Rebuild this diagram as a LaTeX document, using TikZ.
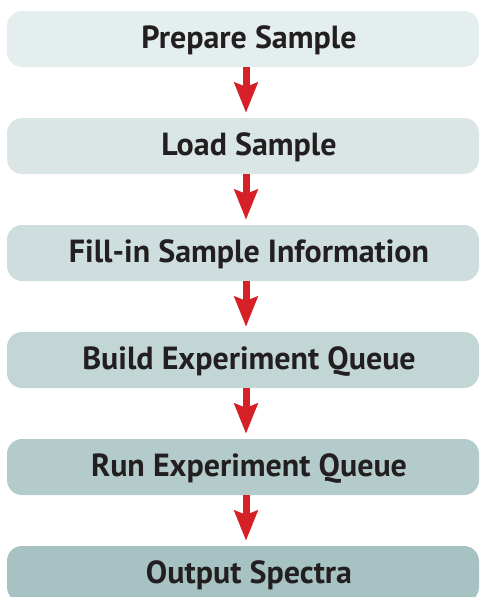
\documentclass[tikz,border=0pt]{standalone}
\usepackage{fontspec}
\usepackage{tikz}
\usetikzlibrary{arrows.meta,positioning}
\newfontfamily\boxfont{PT Sans}
\definecolor{stepred}{RGB}{213,32,39}
\definecolor{steptext}{RGB}{35,31,32}
\definecolor{shadeA}{RGB}{229,238,238}
\definecolor{shadeB}{RGB}{218,230,230}
\definecolor{shadeC}{RGB}{206,222,222}
\definecolor{shadeD}{RGB}{194,214,214}
\definecolor{shadeE}{RGB}{179,203,203}
\definecolor{shadeF}{RGB}{166,194,194}

\begin{document}
\begin{tikzpicture}[x=1pt, y=-1pt,
    stepbox/.style={rounded corners=15pt, minimum width=472pt, minimum height=56pt,
        inner sep=0pt, text=steptext, text height=22pt, text depth=3pt,
        font=\boxfont\bfseries\fontsize{32}{35}\selectfont,
        execute at begin node=\hspace*{12pt}},
    flowarrow/.style={stepred, line width=7pt, shorten >=5pt,
        -{Stealth[length=30pt, width=23pt, inset=4pt]}}]
    \useasboundingbox (0,0) rectangle (480,597);

    % ===================== 六个步骤 =====================
    \node[stepbox, fill=shadeA] (prep)  at (243,39)  {Prepare Sample};
    \node[stepbox, fill=shadeB] (load)  at (243,146) {Load Sample};
    \node[stepbox, fill=shadeC] (fill)  at (243,253) {Fill-in Sample Information};
    \node[stepbox, fill=shadeD] (build) at (243,360) {Build Experiment Queue};
    \node[stepbox, fill=shadeE] (run)   at (243,467) {Run Experiment Queue};
    \node[stepbox, fill=shadeF] (out)   at (243,574) {Output Spectra};

    % 红色箭头
    \draw[flowarrow] ([xshift=3pt]prep.south)  -- ([xshift=3pt]load.north);
    \draw[flowarrow] ([xshift=3pt]load.south)  -- ([xshift=3pt]fill.north);
    \draw[flowarrow] ([xshift=3pt]fill.south)  -- ([xshift=3pt]build.north);
    \draw[flowarrow] ([xshift=3pt]build.south) -- ([xshift=3pt]run.north);
    \draw[flowarrow] ([xshift=3pt]run.south)   -- ([xshift=3pt]out.north);
\end{tikzpicture}
\end{document}
